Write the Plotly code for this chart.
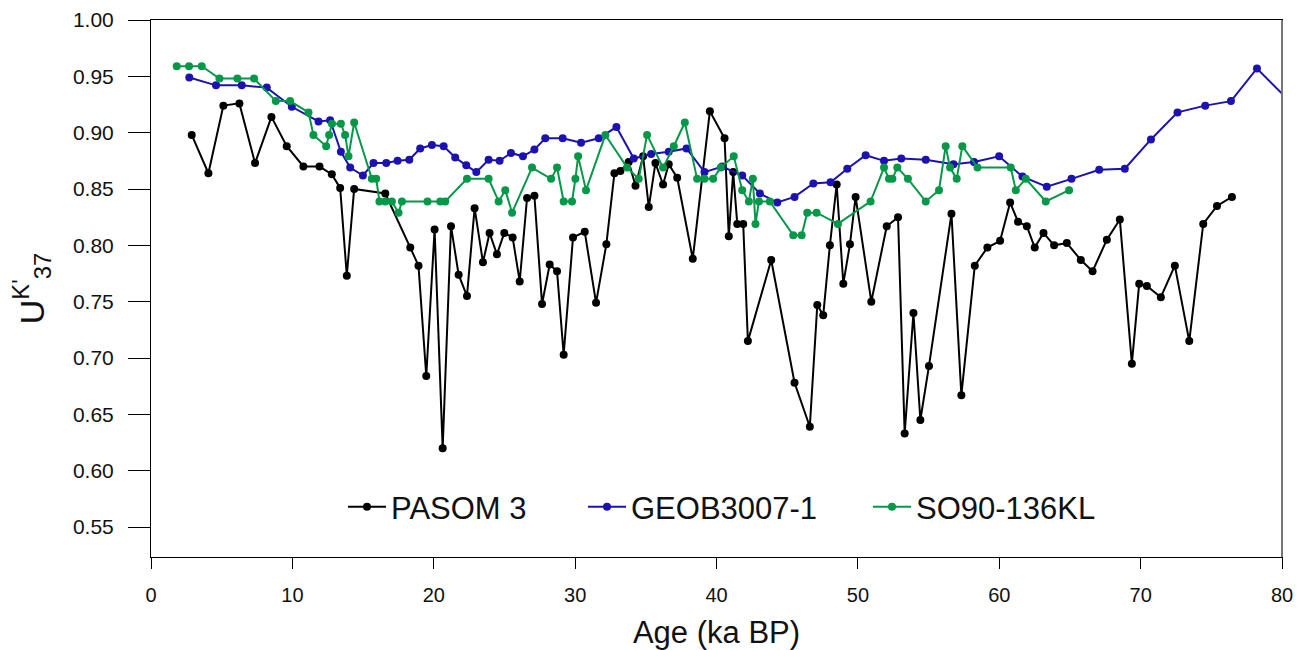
import plotly.graph_objects as go

# PASOM 3 (black)
pasom_age = [2.88, 4.06, 5.12, 6.25, 7.36, 8.52, 9.60, 10.78, 11.92, 12.79, 13.38, 13.85,
             14.37, 16.57, 18.34, 18.92, 19.47, 20.06, 20.63, 21.22, 21.76, 22.35, 22.89,
             23.48, 23.95, 24.47, 24.99, 25.58, 26.08, 26.60, 27.12, 27.66, 28.20, 28.72,
             29.19, 29.85, 30.68, 31.48, 32.21, 32.78, 33.20, 33.79, 34.27, 34.81, 35.21,
             35.68, 36.22, 36.62, 37.22, 38.32, 39.53, 40.57, 40.87, 41.18, 41.47, 41.89,
             42.22, 43.87, 45.52, 46.60, 47.13, 47.55, 48.02, 48.50, 48.97, 49.44, 49.84,
             50.95, 52.04, 52.84, 53.31, 53.93, 54.42, 55.03, 56.62, 57.32, 58.27, 59.16,
             60.06, 60.77, 61.33, 61.95, 62.51, 63.13, 63.88, 64.78, 65.77, 66.60, 67.61,
             68.53, 69.38, 69.90, 70.44, 71.43, 72.42, 73.44, 74.43, 75.40, 76.46]
pasom_uk = [0.898, 0.864, 0.924, 0.926, 0.873, 0.914, 0.888, 0.870, 0.870, 0.863, 0.851, 0.773,
            0.850, 0.846, 0.798, 0.782, 0.684, 0.814, 0.620, 0.817, 0.774, 0.755, 0.833,
            0.785, 0.811, 0.792, 0.811, 0.807, 0.768, 0.842, 0.844, 0.748, 0.783, 0.777,
            0.703, 0.807, 0.812, 0.749, 0.801, 0.864, 0.866, 0.874, 0.853, 0.879, 0.834,
            0.873, 0.854, 0.872, 0.860, 0.788, 0.919, 0.895, 0.808, 0.865, 0.819, 0.819,
            0.715, 0.787, 0.678, 0.639, 0.747, 0.738, 0.800, 0.854, 0.766, 0.801, 0.843,
            0.750, 0.817, 0.825, 0.633, 0.740, 0.645, 0.693, 0.828, 0.667, 0.782, 0.798,
            0.804, 0.838, 0.821, 0.817, 0.798, 0.811, 0.800, 0.802, 0.787, 0.777, 0.805,
            0.823, 0.695, 0.766, 0.764, 0.754, 0.782, 0.715, 0.819, 0.835, 0.843]

# GEOB3007-1 (blue)
geob_age = [2.71, 4.60, 6.42, 8.19, 9.96, 11.85, 12.67, 13.43, 14.09, 14.99, 15.74, 16.64,
            17.44, 18.27, 19.04, 19.87, 20.70, 21.52, 22.30, 23.01, 23.88, 24.66, 25.46,
            26.31, 27.12, 27.89, 29.12, 30.42, 31.67, 32.92, 34.15, 35.38, 36.62, 37.88,
            39.15, 40.40, 41.82, 43.07, 44.30, 45.52, 46.85, 48.07, 49.25, 50.55, 51.85,
            53.07, 54.80, 56.76, 58.22, 59.99, 61.64, 63.36, 65.11, 67.07, 68.88, 70.73,
            72.61, 74.57, 76.39, 78.23, 81.00]
geob_uk = [0.949, 0.942, 0.942, 0.940, 0.923, 0.910, 0.911, 0.883, 0.869, 0.862, 0.873, 0.873,
           0.875, 0.876, 0.886, 0.889, 0.888, 0.878, 0.871, 0.865, 0.876, 0.875, 0.882,
           0.879, 0.885, 0.895, 0.895, 0.891, 0.895, 0.905, 0.877, 0.881, 0.883, 0.886,
           0.865, 0.870, 0.862, 0.846, 0.838, 0.843, 0.855, 0.856, 0.868, 0.880, 0.875,
           0.877, 0.876, 0.872, 0.874, 0.879, 0.861, 0.852, 0.859, 0.867, 0.868, 0.894,
           0.918, 0.924, 0.928, 0.957, 0.922]

# SO90-136KL (green)
so90_age = [1.82, 2.69, 3.59, 4.84, 6.11, 7.29, 8.83, 9.84, 11.14, 11.49, 12.39, 12.60,
            12.80, 13.43, 13.73, 13.97, 14.37, 15.62, 15.93, 16.16, 16.57, 17.04, 17.51,
            17.75, 19.56, 20.46, 20.81, 22.35, 23.88, 24.59, 25.06, 25.54, 26.95, 28.30,
            28.72, 29.19, 29.78, 30.02, 30.21, 30.77, 32.14, 33.68, 34.50, 35.09, 36.22,
            36.98, 37.76, 38.63, 39.15, 39.76, 40.30, 41.22, 41.82, 42.29, 42.57, 42.76,
            43.00, 43.77, 45.43, 46.02, 46.42, 47.08, 48.59, 50.90, 51.85, 52.20, 52.44,
            52.79, 53.54, 54.80, 55.74, 56.21, 56.52, 56.99, 57.39, 58.46, 60.81, 61.17,
            61.88, 63.29, 64.94]
so90_uk = [0.959, 0.959, 0.959, 0.948, 0.948, 0.948, 0.928, 0.928, 0.918, 0.898, 0.888, 0.898,
           0.908, 0.908, 0.898, 0.879, 0.909, 0.859, 0.859, 0.839, 0.839, 0.839, 0.829,
           0.839, 0.839, 0.839, 0.839, 0.859, 0.859, 0.839, 0.849, 0.829, 0.869, 0.859,
           0.869, 0.839, 0.839, 0.859, 0.879, 0.849, 0.898, 0.869, 0.859, 0.898, 0.869,
           0.888, 0.909, 0.859, 0.859, 0.859, 0.869, 0.879, 0.849, 0.839, 0.859, 0.819,
           0.839, 0.839, 0.809, 0.809, 0.829, 0.829, 0.819, 0.839, 0.869, 0.859, 0.859,
           0.869, 0.859, 0.839, 0.849, 0.888, 0.869, 0.859, 0.888, 0.869, 0.869, 0.849,
           0.859, 0.839, 0.849]

y_ticks = [0.55, 0.60, 0.65, 0.70, 0.75, 0.80, 0.85, 0.90, 0.95, 1.00]
x_ticks = [0, 10, 20, 30, 40, 50, 60, 70, 80]

series = [
    ("PASOM 3", pasom_age, pasom_uk, "#000000", "legend"),
    ("GEOB3007-1", geob_age, geob_uk, "#1c12b0", "legend2"),
    ("SO90-136KL", so90_age, so90_uk, "#069848", "legend3"),
]

fig = go.Figure()
for name, xs, ys, col, lg in series:
    fig.add_trace(go.Scatter(
        x=xs, y=ys, name=name, mode="lines+markers",
        line=dict(color=col, width=2),
        marker=dict(color=col, size=8),
        legend=lg,
    ))

FONT = "Liberation Sans, Arial, sans-serif"
L, R = 151, 1282
PW = R - L


def legend_at(px_left):
    return dict(
        orientation="h", x=(px_left - L) / PW, xanchor="left", y=0.093, yanchor="middle",
        font=dict(size=31, family=FONT, color="#111111"),
        bgcolor="rgba(0,0,0,0)", itemwidth=38, borderwidth=0,
    )


fig.update_layout(
    width=1298, height=650,
    margin=dict(l=L, r=1298 - R, t=20, b=93),
    paper_bgcolor="white", plot_bgcolor="white",
    font=dict(family=FONT, color="#111111"),
    showlegend=True,
    legend=legend_at(343),
    legend2=legend_at(583),
    legend3=legend_at(868),
    xaxis=dict(
        range=[0, 80], tickvals=x_ticks, ticktext=[str(v) for v in x_ticks],
        showgrid=False, zeroline=False, automargin=False,
        showline=True, linecolor="#000000", linewidth=1, mirror=True,
        ticks="outside", ticklen=11, tickcolor="#000000", tickwidth=1,
        tickfont=dict(size=20, family=FONT, color="#111111"),
        ticklabelstandoff=9,
        title=dict(text="Age (ka BP)", font=dict(size=31, family=FONT, color="#111111"),
                   standoff=16),
    ),
    yaxis=dict(
        range=[0.5234, 1.0], tickvals=y_ticks, ticktext=[f"{v:.2f}" for v in y_ticks],
        showgrid=False, zeroline=False, automargin=False,
        showline=True, linecolor="#000000", linewidth=1, mirror=True,
        ticks="outside", ticklen=22, tickcolor="#000000", tickwidth=1,
        tickfont=dict(size=21, family=FONT, color="#111111"),
        ticklabelstandoff=10,
        title=dict(text="U<sup>K'</sup><sub>37</sub>", font=dict(size=34, family=FONT, color="#111111"),
                   standoff=18),
    ),
)

# gray right border of the plotting box
fig.add_shape(type="line", xref="paper", yref="paper", x0=1, x1=1, y0=0, y1=1,
              line=dict(color="#777777", width=2))

fig.write_html("out.html")
